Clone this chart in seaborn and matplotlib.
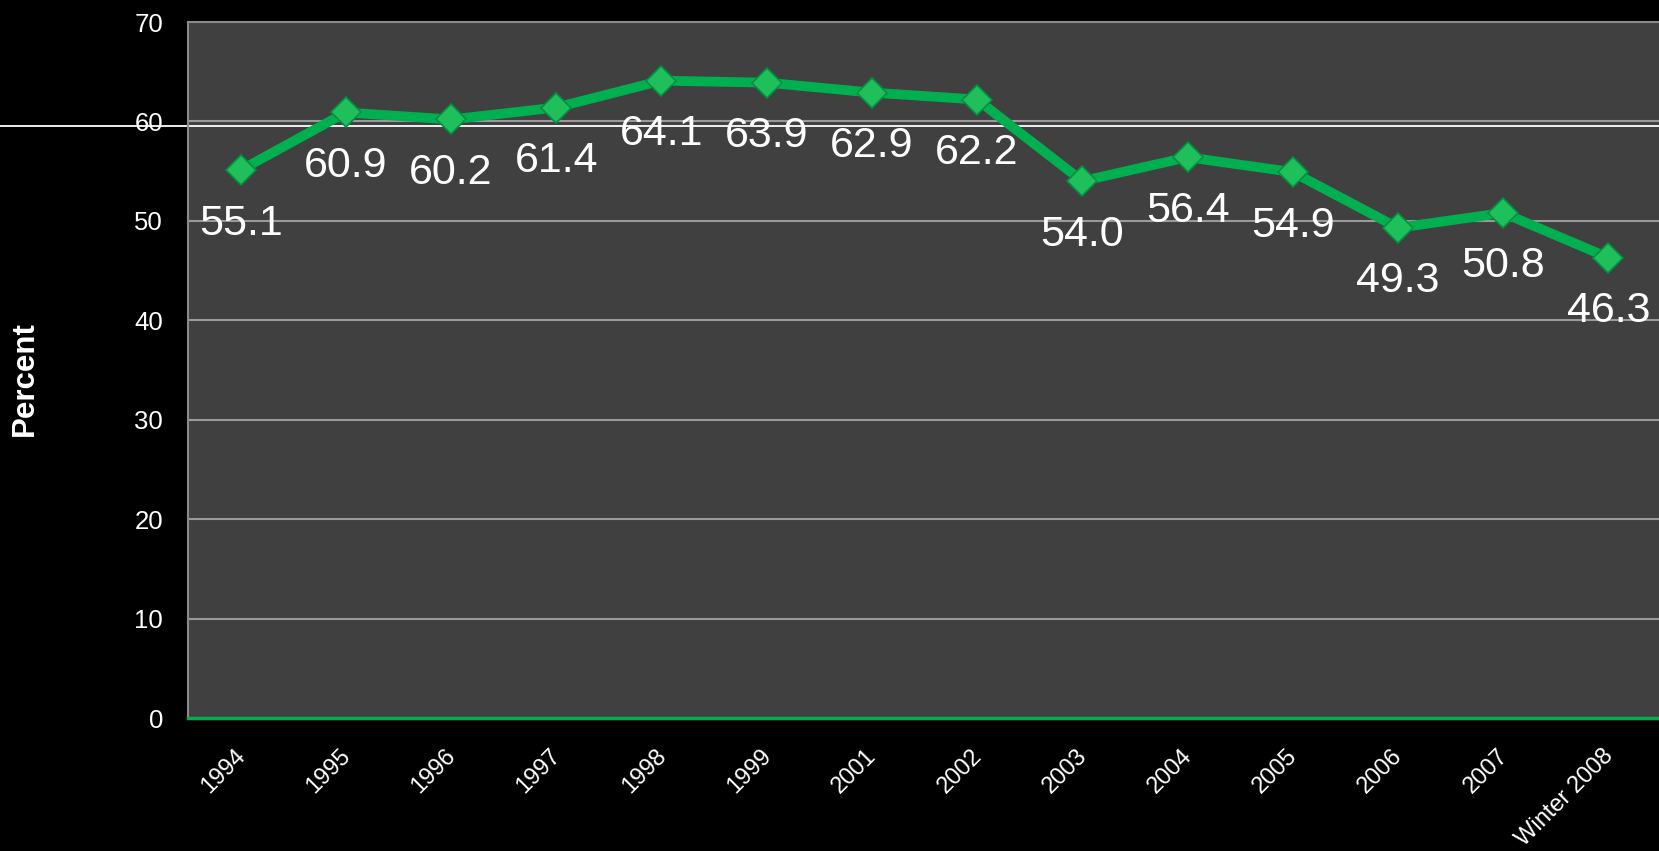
import matplotlib
matplotlib.use("Agg")
import matplotlib.pyplot as plt
import seaborn as sns
import pandas as pd
from matplotlib.transforms import ScaledTranslation

years = ["1994", "1995", "1996", "1997", "1998", "1999", "2001", "2002",
         "2003", "2004", "2005", "2006", "2007", "Winter 2008"]
percent = [55.1, 60.9, 60.2, 61.4, 64.1, 63.9, 62.9, 62.2,
           54.0, 56.4, 54.9, 49.3, 50.8, 46.3]
y_ticks = [0, 10, 20, 30, 40, 50, 60, 70]

df = pd.DataFrame({"year": years, "pct": percent})

sns.set_style("dark")
plt.rcParams["font.family"] = ["Liberation Sans", "DejaVu Sans"]

W, H = 1659, 851
fig = plt.figure(figsize=(W / 100, H / 100), dpi=100, facecolor="black")
left, top, bottom = 188, 22, 718
ax = fig.add_axes([left / W, (H - bottom) / H, 1473 / W, (bottom - top) / H])
ax.set_facecolor("#404040")

green = "#00B050"
sns.lineplot(data=df, x="year", y="pct", sort=False, ax=ax, color=green,
             linewidth=7, marker="D", markersize=15,
             markerfacecolor="#1fbf5c", markeredgecolor="#009040",
             markeredgewidth=1.2, zorder=3)

for i, (x, v) in enumerate(zip(years, percent)):
    ax.annotate(f"{v:.1f}", xy=(i, v), xytext=(0, -38.5), textcoords="offset points",
                ha="center", va="center", color="white", fontsize=31, zorder=4)

ax.set_xlim(-0.5, 13.5)
ax.set_ylim(0, 70)
ax.set_yticks(y_ticks)
ax.set_yticklabels([str(t) for t in y_ticks])
ax.yaxis.grid(True, color="#9a9a9a", linewidth=1.5)
ax.xaxis.grid(False)
ax.set_axisbelow(True)

ax.tick_params(axis="both", length=0, colors="white")
ax.tick_params(axis="y", pad=18, labelsize=18.5)
ax.tick_params(axis="x", pad=19, labelsize=17)
ax.set_xticks(range(len(years)))
ax.set_xticklabels(years, rotation=45, ha="right", va="top")
for lab in ax.get_xticklabels():
    lab.set_transform(lab.get_transform() + ScaledTranslation(0.09, 0, fig.dpi_scale_trans))

ax.set_xlabel("")
ax.set_ylabel("")
for s in ["left", "top"]:
    ax.spines[s].set_color("#8a8a8a")
    ax.spines[s].set_linewidth(1.5)
ax.spines["right"].set_visible(False)
ax.spines["bottom"].set_color(green)
ax.spines["bottom"].set_linewidth(2.5)

# thin white horizontal rule across the figure
ax.axhline((bottom - 126) / ((bottom - top) / 70), xmin=-left / 1473, xmax=1,
           color="white", linewidth=1.3, clip_on=False, zorder=1.5)

fig.text(25 / W, 1 - 379 / H, "Percent", rotation=90, ha="center", va="center",
         color="white", fontsize=22.5, fontweight="bold")

fig.savefig("out.png", dpi=100, facecolor="black")
